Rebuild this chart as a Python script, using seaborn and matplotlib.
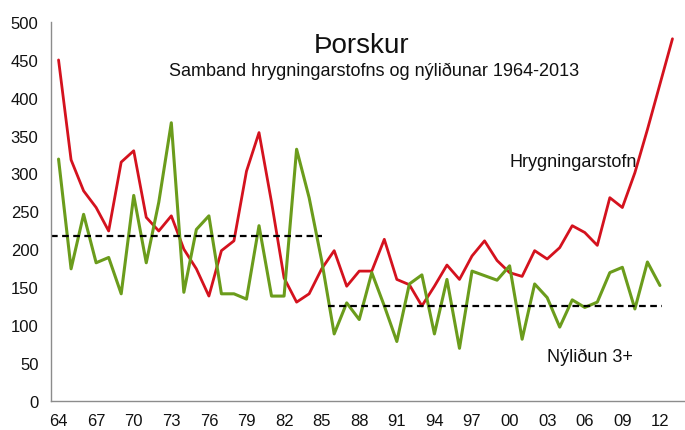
"""
Þorskur - samband hrygningarstofns og nýliðunar 1964-2013.
Redrawn with seaborn, saved as out.png (685x431).
"""

import matplotlib
matplotlib.use("Agg")
import matplotlib.pyplot as plt
import pandas as pd
import seaborn as sns

# spawning stock (red), 1964-2013
years_ssb = list(range(1964, 2014))
ssb = [450, 318, 277, 255, 224, 315, 330, 242, 224, 244,
       200, 174, 138, 198, 211, 303, 354, 262, 162, 130,
       141, 174, 198, 151, 171, 171, 213, 160, 153, 125,
       151, 179, 160, 191, 211, 185, 169, 164, 198, 187,
       202, 231, 222, 205, 268, 255, 301, 358, 418, 478]

# recruitment at age 3 (green), 1964-2012
years_rec = list(range(1964, 2013))
recruits = [319, 174, 246, 182, 189, 141, 271, 182, 262, 367,
            143, 226, 244, 141, 141, 134, 231, 138, 138, 332,
            268, 185, 88, 129, 107, 169, 125, 78, 154, 166,
            88, 160, 69, 171, 165, 159, 178, 81, 154, 136,
            97, 133, 123, 130, 169, 176, 121, 183, 152]

# average recruitment in two periods (dashed lines)
avg_start = [1963.4, 1985.5]
avg_end = [1985.0, 2012.2]
avg_level = [217, 125]

x_ticks = list(range(1964, 2013, 3))
x_labels = [f"{y % 100:02d}" for y in x_ticks]
y_ticks = list(range(0, 501, 50))

title = "Þorskur"
subtitle = "Samband hrygningarstofns og nýliðunar 1964-2013"
label_ssb = "Hrygningarstofn"
label_rec = "Nýliðun 3+"

RED = "#d4121e"
GREEN = "#6b9c1c"
AXIS_GREY = "#8c8c8c"

sns.set_style("white")
plt.rcParams["font.family"] = ["Liberation Sans", "DejaVu Sans"]

df_ssb = pd.DataFrame({"year": years_ssb, "value": ssb})
df_rec = pd.DataFrame({"year": years_rec, "value": recruits})

fig = plt.figure(figsize=(6.85, 4.31), dpi=100)
ax = fig.add_axes([0.0745, 0.0684, 0.9255, 0.878])

sns.lineplot(data=df_ssb, x="year", y="value", ax=ax, color=RED, lw=2.0)
sns.lineplot(data=df_rec, x="year", y="value", ax=ax, color=GREEN, lw=2.2)
ax.hlines(avg_level, avg_start, avg_end, colors="black", linestyles=(0, (3, 2)), lw=1.6)

ax.set_xlim(1963.4, 2014.0)
ax.set_ylim(0, 500)
ax.set_xticks(x_ticks)
ax.set_xticklabels(x_labels)
ax.set_yticks(y_ticks)
ax.set_xlabel("")
ax.set_ylabel("")

for side in ["top", "right"]:
    ax.spines[side].set_visible(False)
for side in ["left", "bottom"]:
    ax.spines[side].set_color(AXIS_GREY)
    ax.spines[side].set_linewidth(1.0)

ax.tick_params(axis="x", direction="inout", length=10, width=1, color=AXIS_GREY,
               labelsize=12, pad=4, labelcolor="#111111")
ax.tick_params(axis="y", direction="out", length=6, width=1, color=AXIS_GREY,
               labelsize=12, pad=3, labelcolor="#111111")

fig.text(0.528, 0.877, title, ha="center", va="baseline", fontsize=20, color="#111111")
fig.text(0.546, 0.824, subtitle, ha="center", va="baseline", fontsize=13, color="#111111")
ax.text(2000.0, 310, label_ssb, ha="left", va="baseline", fontsize=13, color="#111111")
ax.text(2003.0, 52, label_rec, ha="left", va="baseline", fontsize=13, color="#111111")

fig.savefig("out.png", dpi=100)
plt.close(fig)
